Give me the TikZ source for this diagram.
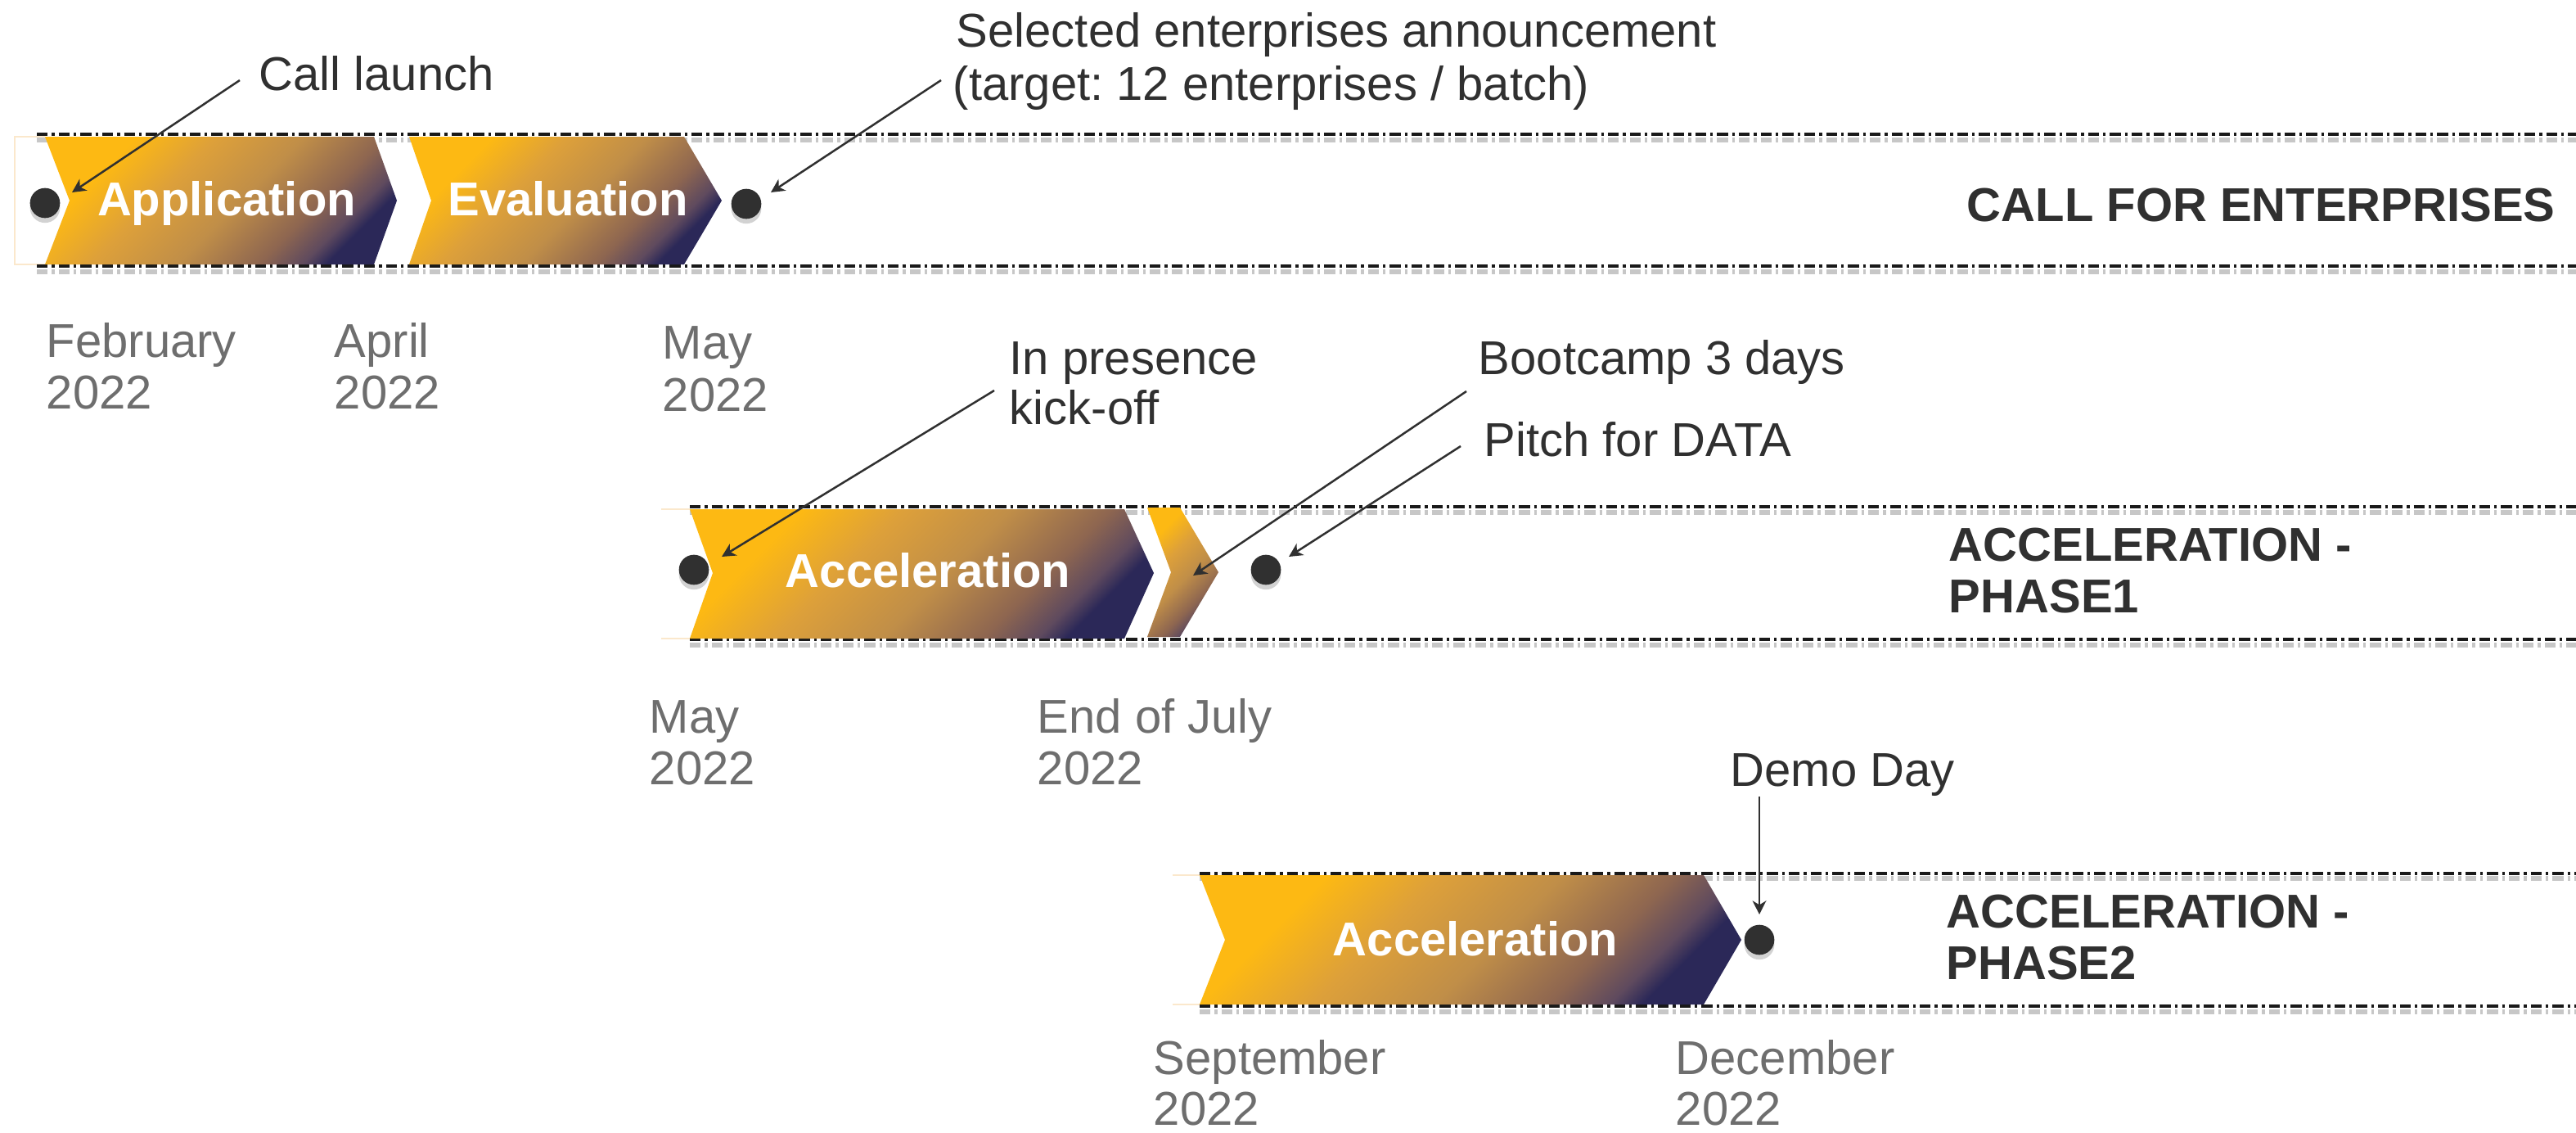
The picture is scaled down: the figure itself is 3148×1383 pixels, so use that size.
\documentclass[tikz,border=0pt]{standalone}
\usepackage{fontspec}
\setmainfont{Liberation Sans}
\usetikzlibrary{arrows.meta,shadows}
\definecolor{cY}{HTML}{FDB913}
\definecolor{cB}{HTML}{DDA03A}
\definecolor{cM}{HTML}{C08E48}
\definecolor{cR}{HTML}{8E6650}
\definecolor{cP}{HTML}{5F4A5E}
\definecolor{cN}{HTML}{2B2858}
\definecolor{txt}{HTML}{303030}
\definecolor{gry}{HTML}{6E6E6E}
\definecolor{faint}{HTML}{FBE8CC}
\pgfdeclareverticalshading{chevshade}{100bp}{color(0bp)=(cN); color(25bp)=(cN); color(28.5bp)=(cP); color(35bp)=(cR); color(47bp)=(cM); color(60bp)=(cB); color(72bp)=(cY); color(100bp)=(cY)}
\newcommand{\fsz}{\fontsize{13.92pt}{15.12pt}\selectfont\frenchspacing}
\begin{document}
\begin{tikzpicture}[x=0.24pt,y=-0.24pt,
  chev/.style={shading=chevshade, shading angle=45},
  lbl/.style={font=\fsz, text=txt, inner sep=0pt, anchor=base west},
  datel/.style={lbl, text=gry},
  chevtxt/.style={font=\fsz\bfseries, text=white, inner sep=0pt, anchor=base},
  head/.style={font=\fsz\bfseries, text=txt, inner sep=0pt, anchor=base west},
  pointer/.style={draw=txt, line width=0.6pt, -{Stealth[length=4pt,width=4pt,inset=1.2pt]}},
  dline/.style={draw=black!90, line width=0.95pt, dash pattern=on 3.2pt off 1.2pt on 0.8pt off 1.2pt},
  dshadow/.style={draw=black!22, line width=1.5pt, dash pattern=on 3.2pt off 1.2pt on 0.8pt off 1.2pt},
  faintline/.style={draw=faint, line width=0.4pt},
  dot/.style={circle, fill=txt, minimum size=8.8pt, inner sep=0pt,
    drop shadow={shadow xshift=0pt, shadow yshift=-1.4pt, fill=black!35, opacity=0.5}}
]
\useasboundingbox[fill=white] (0,0) rectangle (3148,1383);

% ---------- Row 1 : call for enterprises ----------
\draw[faintline] (55,167) -- (18,167) -- (18,323) -- (55,323);
\draw[dshadow] (45,171) -- (3148,171);
\draw[dshadow] (45,332) -- (3148,332);
\draw[dline] (45,164) -- (3148,164);
\draw[dline] (45,325) -- (3148,325);
\shade[chev] (55,167) -- (457,167) -- (485,245) -- (457,323) -- (55,323) -- (85,245) -- cycle;
\shade[chev] (500,167) -- (836,167) -- (882,245) -- (836,323) -- (500,323) -- (527,245) -- cycle;
\node[chevtxt] (app) at (277,263) {Application};
\node[chevtxt] (eva) at (694,263) {Evaluation};
\node[dot] (d1) at (55,248) {};
\node[dot] (d2) at (912,249) {};
\node[head] (h1) at (2403,270) {CALL FOR ENTERPRISES};

\node[lbl] (call) at (316,110) {Call launch};
\coordinate (callS) at (293,98);
\coordinate (callE) at (88,235);
\draw[pointer] (callS) -- (callE);

\node[lbl] (sel1) at (1168,57) {Selected enterprises announcement};
\node[lbl] (sel2) at (1164,122) {(target: 12 enterprises / batch)};
\coordinate (selS) at (1150,98);
\coordinate (selE) at (942,235);
\draw[pointer] (selS) -- (selE);

\node[datel] (feb1) at (56,436) {February};
\node[datel] (feb2) at (56,499) {2022};
\node[datel] (apr1) at (408,436) {April};
\node[datel] (apr2) at (408,499) {2022};
\node[datel] (may1) at (809,438) {May};
\node[datel] (may2) at (809,502) {2022};

% ---------- Row 2 : acceleration phase 1 ----------
\draw[faintline] (843,622) -- (808,622);
\draw[faintline] (843,780) -- (808,780);
\draw[dshadow] (843,626) -- (3148,626);
\draw[dshadow] (843,788) -- (3148,788);
\draw[dline] (843,619) -- (3148,619);
\draw[dline] (843,781) -- (3148,781);
\shade[chev] (843,622) -- (1374,622) -- (1410,700) -- (1374,780) -- (843,780) -- (871,700) -- cycle;
\shade[chev] (1402,620) -- (1442,620) -- (1489,699) -- (1442,778) -- (1402,778) -- (1431,699) -- cycle;
\node[chevtxt] (acc1) at (1134,717) {Acceleration};
\node[dot] (d3) at (848,696) {};
\node[dot] (d4) at (1547,696) {};
\node[head] (h2a) at (2381,685) {ACCELERATION -};
\node[head] (h2b) at (2381,748) {PHASE1};

\node[lbl] (kick1) at (1233,457) {In presence};
\node[lbl] (kick2) at (1233,518) {kick-off};
\coordinate (kickS) at (1215,477);
\coordinate (kickE) at (882,680);
\draw[pointer] (kickS) -- (kickE);

\node[lbl] (boot) at (1806,457) {Bootcamp 3 days};
\coordinate (bootS) at (1792,478);
\coordinate (bootE) at (1458,703);
\draw[pointer] (bootS) -- (bootE);

\node[lbl] (pitch) at (1813,557) {Pitch for DATA};
\coordinate (pitchS) at (1785,545);
\coordinate (pitchE) at (1575,680);
\draw[pointer] (pitchS) -- (pitchE);

\node[datel] (may3) at (793,895) {May};
\node[datel] (may4) at (793,958) {2022};
\node[datel] (jul1) at (1267,895) {End of July};
\node[datel] (jul2) at (1267,958) {2022};

% ---------- Row 3 : acceleration phase 2 ----------
\draw[faintline] (1466,1069) -- (1433,1069);
\draw[faintline] (1466,1227) -- (1433,1227);
\draw[dshadow] (1466,1073) -- (3148,1073);
\draw[dshadow] (1466,1236) -- (3148,1236);
\draw[dline] (1466,1067) -- (3148,1067);
\draw[dline] (1466,1229) -- (3148,1229);
\shade[chev] (1466,1069) -- (2082,1069) -- (2128,1148) -- (2082,1227) -- (1466,1227) -- (1497,1148) -- cycle;
\node[chevtxt] (acc2) at (1803,1167) {Acceleration};
\node[dot] (d5) at (2150,1148) {};
\node[head] (h3a) at (2378,1133) {ACCELERATION -};
\node[head] (h3b) at (2378,1196) {PHASE2};

\node[lbl] (demo) at (2114,960) {Demo Day};
\coordinate (demoS) at (2150,973);
\coordinate (demoE) at (2150,1117);
\draw[pointer] (demoS) -- (demoE);

\node[datel] (sep1) at (1409,1312) {September};
\node[datel] (sep2) at (1409,1374) {2022};
\node[datel] (dec1) at (2047,1312) {December};
\node[datel] (dec2) at (2047,1374) {2022};
\end{tikzpicture}
\end{document}
